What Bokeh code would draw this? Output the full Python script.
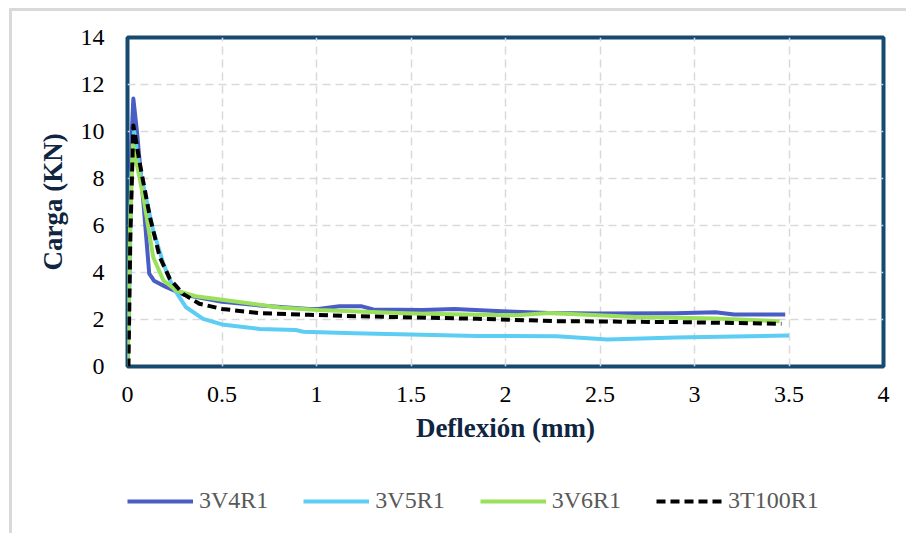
from bokeh.plotting import figure
from bokeh.layouts import column
from bokeh.models import Legend, LegendItem, FixedTicker, NumeralTickFormatter, Range1d
from bokeh.embed import file_html
from bokeh.resources import INLINE

# Load-deflection curves (deflection in mm, load in kN)
x_3v4r1 = [0, 0.01, 0.02, 0.031, 0.05, 0.085, 0.115, 0.14, 0.2, 0.3, 0.5, 0.7, 0.96,
           1.01, 1.12, 1.24, 1.30, 1.56, 1.73, 1.98, 2.23, 2.48, 2.90, 3.11, 3.21, 3.48]
y_3v4r1 = [0, 4.0, 9.5, 11.4, 10.0, 6.9, 3.95, 3.65, 3.4, 3.05, 2.75, 2.6, 2.45,
           2.45, 2.56, 2.56, 2.43, 2.40, 2.45, 2.35, 2.28, 2.26, 2.27, 2.31, 2.21, 2.21]

x_3v5r1 = [0, 0.005, 0.02, 0.035, 0.066, 0.136, 0.19, 0.24, 0.31, 0.40, 0.5, 0.70,
           0.89, 0.93, 1.2, 1.85, 2.27, 2.54, 2.90, 3.50]
y_3v5r1 = [0, 1.5, 8.0, 10.0, 8.34, 5.79, 4.37, 3.38, 2.52, 2.03, 1.79, 1.60,
           1.55, 1.48, 1.42, 1.30, 1.29, 1.15, 1.23, 1.32]

x_3v6r1 = [0, 0.01, 0.028, 0.084, 0.136, 0.19, 0.26, 0.36, 0.5, 0.805, 1.01, 1.50,
           2.06, 2.23, 2.69, 3.11, 3.45]
y_3v6r1 = [0, 5.0, 9.47, 7.2, 4.65, 3.66, 3.23, 2.99, 2.84, 2.51, 2.40, 2.26,
           2.18, 2.28, 2.11, 2.04, 1.93]

x_3t100r1 = [0, 0.005, 0.015, 0.031, 0.066, 0.119, 0.171, 0.224, 0.294, 0.38, 0.5,
             0.70, 0.96, 1.22, 1.85, 2.27, 2.90, 3.46]
y_3t100r1 = [0, 0, 5.5, 10.26, 8.6, 6.35, 4.65, 3.73, 3.09, 2.67, 2.45,
             2.27, 2.20, 2.14, 2.03, 1.93, 1.89, 1.82]

series_names = ["3V4R1", "3V5R1", "3V6R1", "3T100R1"]
series_x = [x_3v4r1, x_3v5r1, x_3v6r1, x_3t100r1]
series_y = [y_3v4r1, y_3v5r1, y_3v6r1, y_3t100r1]

x_ticks = [0, 0.5, 1, 1.5, 2, 2.5, 3, 3.5, 4]
y_ticks = [0, 2, 4, 6, 8, 10, 12, 14]

SERIF = "Liberation Serif"
NAVY = "#174A70"
COLORS = ["#4A5DC5", "#5DCDF3", "#9BE05A", "black"]
DASHES = ["solid", "solid", "solid", "9 5"]

fig = figure(width=894, height=440, output_backend="svg", toolbar_location=None,
             x_range=Range1d(0, 4), y_range=Range1d(0, 14),
             min_border_left=115, min_border_right=23, min_border_top=26,
             min_border_bottom=85)

fig.outline_line_color = NAVY
fig.outline_line_width = 4
fig.background_fill_color = "white"
fig.border_fill_color = "white"

for ax in (fig.xaxis[0], fig.yaxis[0]):
    ax.axis_line_color = None
    ax.major_tick_line_color = None
    ax.minor_tick_line_color = None
    ax.major_label_text_font = SERIF
    ax.major_label_text_font_size = "24px"
    ax.major_label_text_color = "black"
    ax.axis_label_text_font = SERIF
    ax.axis_label_text_font_size = "27px"
    ax.axis_label_text_font_style = "bold"
    ax.axis_label_text_color = "#10253F"

fig.xaxis.ticker = FixedTicker(ticks=x_ticks)
fig.yaxis.ticker = FixedTicker(ticks=y_ticks)
fig.xaxis.formatter = NumeralTickFormatter(format="0.[0]")
fig.yaxis.formatter = NumeralTickFormatter(format="0")
fig.xaxis.major_label_standoff = 14
fig.yaxis.major_label_standoff = 17
fig.xaxis.axis_label = "Deflexión (mm)"
fig.yaxis.axis_label = "Carga (KN)"
fig.xaxis.axis_label_standoff = 8
fig.yaxis.axis_label_standoff = 10

for g in (fig.xgrid[0], fig.ygrid[0]):
    g.grid_line_color = "#D9D9D9"
    g.grid_line_width = 1.5
    g.grid_line_dash = "8 5"

for xs, ys, c, d in zip(series_x, series_y, COLORS, DASHES):
    fig.line(xs, ys, line_color=c, line_width=4, line_join="round", line_dash=d)

# legend strip beneath the chart: same series, viewed outside their data extent
leg = figure(width=894, height=82, output_backend="svg", toolbar_location=None,
             x_range=Range1d(10, 11), y_range=Range1d(10, 11),
             x_axis_location=None, y_axis_location=None, min_border=0)
leg.outline_line_color = None
leg.grid.visible = False
items = []
for name, xs, ys, c, d in zip(series_names, series_x, series_y, COLORS, DASHES):
    r = leg.line(xs, ys, line_color=c, line_width=4, line_join="round", line_dash=d)
    items.append(LegendItem(label=name, renderers=[r]))

legend = Legend(items=items, orientation="horizontal", location=(0, 19),
                label_text_font=SERIF, label_text_font_size="24px",
                label_text_color="#595959", glyph_width=66, label_standoff=6,
                spacing=35, border_line_color=None, background_fill_alpha=0,
                padding=0, margin=0)
leg.add_layout(legend, "center")

p = column(fig, leg, spacing=0,
           styles={"margin-left": "9px", "margin-top": "8px",
                   "border-top": "3px solid #D9D9D9", "border-left": "3px solid #D9D9D9"})

open("out.html", "w").write(file_html(p, INLINE))
